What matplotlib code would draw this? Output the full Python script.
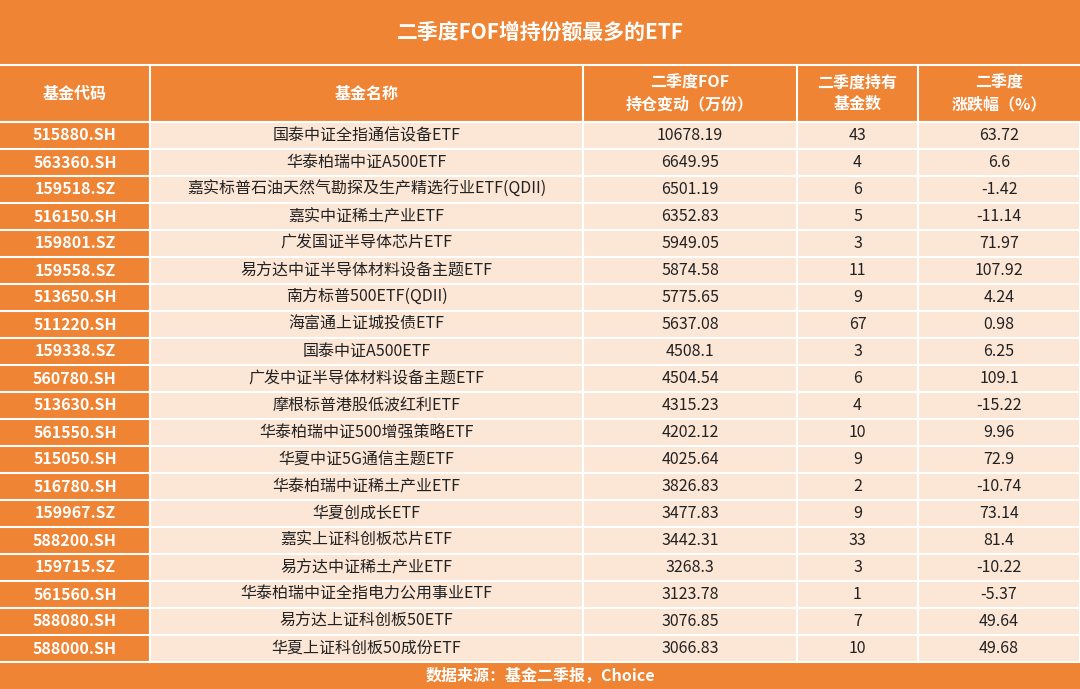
import matplotlib.pyplot as plt
from matplotlib.patches import Rectangle

plt.rcParams['font.family'] = ['Noto Sans CJK SC', 'DejaVu Sans']

TITLE = "二季度FOF增持份额最多的ETF"
HEADERS = ["基金代码", "基金名称", "二季度FOF\n持仓变动（万份）", "二季度持有\n基金数", "二季度\n涨跌幅（%）"]
FOOTER = "数据来源：基金二季报，Choice"

codes = ["515880.SH", "563360.SH", "159518.SZ", "516150.SH", "159801.SZ", "159558.SZ",
         "513650.SH", "511220.SH", "159338.SZ", "560780.SH", "513630.SH", "561550.SH",
         "515050.SH", "516780.SH", "159967.SZ", "588200.SH", "159715.SZ", "561560.SH",
         "588080.SH", "588000.SH"]
names = ["国泰中证全指通信设备ETF", "华泰柏瑞中证A500ETF", "嘉实标普石油天然气勘探及生产精选行业ETF(QDII)",
         "嘉实中证稀土产业ETF", "广发国证半导体芯片ETF", "易方达中证半导体材料设备主题ETF",
         "南方标普500ETF(QDII)", "海富通上证城投债ETF", "国泰中证A500ETF", "广发中证半导体材料设备主题ETF",
         "摩根标普港股低波红利ETF", "华泰柏瑞中证500增强策略ETF", "华夏中证5G通信主题ETF",
         "华泰柏瑞中证稀土产业ETF", "华夏创成长ETF", "嘉实上证科创板芯片ETF", "易方达中证稀土产业ETF",
         "华泰柏瑞中证全指电力公用事业ETF", "易方达上证科创板50ETF", "华夏上证科创板50成份ETF"]
changes = ["10678.19", "6649.95", "6501.19", "6352.83", "5949.05", "5874.58", "5775.65", "5637.08",
           "4508.1", "4504.54", "4315.23", "4202.12", "4025.64", "3826.83", "3477.83", "3442.31",
           "3268.3", "3123.78", "3076.85", "3066.83"]
funds = ["43", "4", "6", "5", "3", "11", "9", "67", "3", "6", "4", "10", "9", "2", "9", "33",
         "3", "1", "7", "10"]
returns = ["63.72", "6.6", "-1.42", "-11.14", "71.97", "107.92", "4.24", "0.98", "6.25", "109.1",
           "-15.22", "9.96", "72.9", "-10.74", "73.14", "81.4", "-10.22", "-5.37", "49.64", "49.68"]

ORANGE = "#EE8434"
PEACH = "#FCE6D6"
W, H = 1080, 689
col_x = [0, 150, 583, 797, 918, 1080]
title_h, head_top, head_bot = 65, 65, 122
row_h = 27
foot_top = head_bot + row_h * len(codes)

fig = plt.figure(figsize=(W / 100, H / 100), dpi=100)
ax = fig.add_axes([0, 0, 1, 1])
ax.set_xlim(0, W)
ax.set_ylim(H, 0)
ax.axis("off")

ax.add_patch(Rectangle((0, 0), W, H, color=ORANGE, lw=0))
ax.text(W / 2, title_h / 2, TITLE, ha="center", va="center", color="white", fontsize=15, fontweight="bold")

for j, h in enumerate(HEADERS):
    ax.text((col_x[j] + col_x[j + 1]) / 2, (head_top + head_bot) / 2, h, ha="center", va="center",
            color="white", fontsize=11.5, fontweight="bold", linespacing=1.4)

for i in range(len(codes)):
    y0 = head_bot + i * row_h
    cells = [codes[i], names[i], changes[i], funds[i], returns[i]]
    for j, val in enumerate(cells):
        x0, x1 = col_x[j], col_x[j + 1]
        if j > 0:
            ax.add_patch(Rectangle((x0, y0), x1 - x0, row_h, facecolor=PEACH, edgecolor="white", lw=1.5))
        ax.text((x0 + x1) / 2, y0 + row_h / 2, val, ha="center", va="center",
                color="white" if j == 0 else "#222222", fontsize=11.5,
                fontweight="bold" if j == 0 else "normal")

# white separators
ax.plot([0, W], [head_top, head_top], color="white", lw=1.5)
ax.plot([0, W], [head_bot, head_bot], color="white", lw=1.5)
for i in range(len(codes) + 1):
    ax.plot([0, col_x[1]], [head_bot + i * row_h] * 2, color="white", lw=1.5)
for x in col_x[1:-1]:
    ax.plot([x, x], [head_top, foot_top], color="white", lw=1.5)

ax.text(W / 2, (foot_top + H) / 2, FOOTER, ha="center", va="center", color="white",
        fontsize=11.5, fontweight="bold")

fig.savefig("out.png", dpi=100)
